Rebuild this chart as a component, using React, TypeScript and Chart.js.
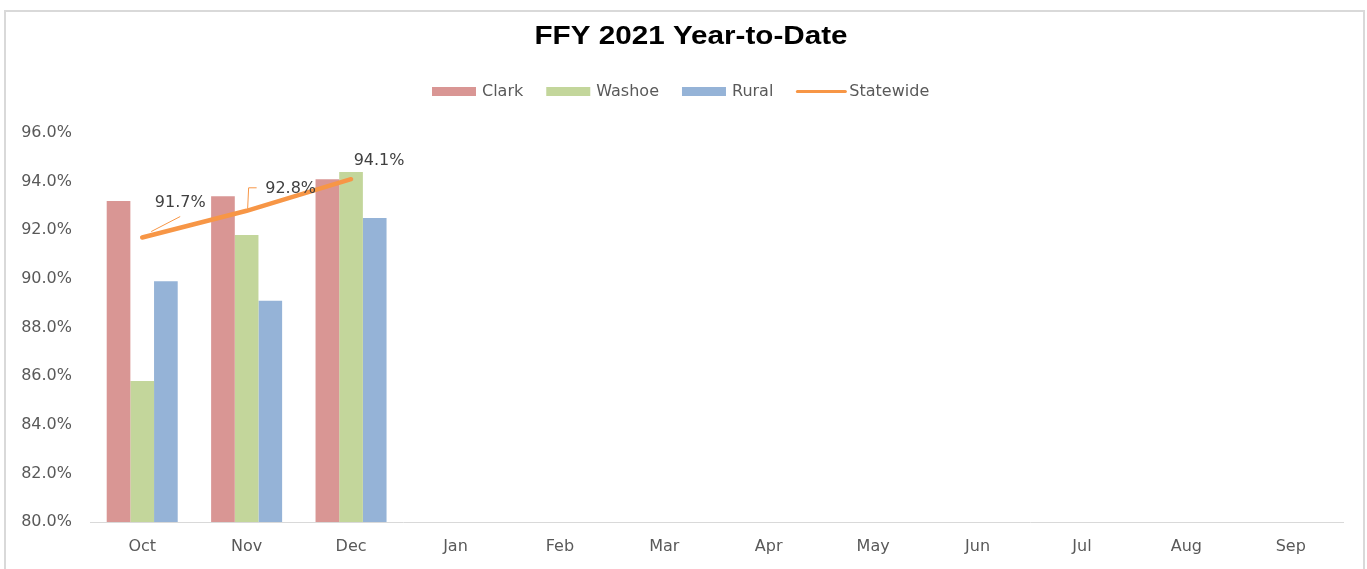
import React, { useEffect, useRef } from "react";
import { Chart, registerables } from "chart.js";

Chart.register(...registerables);

const months = ["Oct", "Nov", "Dec", "Jan", "Feb", "Mar", "Apr", "May", "Jun", "Jul", "Aug", "Sep"];
const clark = [93.2, 93.4, 94.1, null, null, null, null, null, null, null, null, null];
const washoe = [85.8, 91.8, 94.4, null, null, null, null, null, null, null, null, null];
const rural = [89.9, 89.1, 92.5, null, null, null, null, null, null, null, null, null];
const statewide = [91.7, 92.8, 94.1, null, null, null, null, null, null, null, null, null];
const yTicks = [80, 82, 84, 86, 88, 90, 92, 94, 96];

const COLORS = { clark: "#d99694", washoe: "#c3d69b", rural: "#95b3d7", statewide: "#f79646" };
const FONT = "'DejaVu Sans', 'Open Sans', sans-serif";

const titleLegendPlugin = {
  id: "titleLegend",
  afterDraw(chart: any) {
    const ctx = chart.ctx;
    ctx.save();
    // title, horizontally stretched like the reference
    ctx.font = `bold 25px 'Liberation Sans', Arial, sans-serif`;
    const title = "FFY 2021 Year-to-Date";
    const tw = ctx.measureText(title).width;
    const sx = 313 / tw;
    ctx.save();
    ctx.translate(691, 37);
    ctx.scale(sx, 1);
    ctx.fillStyle = "#000";
    ctx.textAlign = "center";
    ctx.textBaseline = "middle";
    ctx.fillText(title, 0, 0);
    ctx.restore();

    const items = chart.data.datasets.map((d: any) => ({
      label: d.label,
      color: d.borderColor || d.backgroundColor,
      isLine: d.type === "line",
    }));
    ctx.font = `16px ${FONT}`;
    ctx.textAlign = "left";
    ctx.textBaseline = "middle";
    let x = 432;
    const y = 91.5;
    items.forEach((it: any) => {
      const boxW = it.isLine ? 50 : 44;
      const gap = it.isLine ? 3 : 6;
      if (it.isLine) {
        ctx.strokeStyle = it.color;
        ctx.lineWidth = 3;
        ctx.lineCap = "round";
        ctx.beginPath();
        ctx.moveTo(x + 1, y);
        ctx.lineTo(x + boxW - 1, y);
        ctx.stroke();
      } else {
        ctx.fillStyle = it.color;
        ctx.fillRect(x, y - 4.5, boxW, 9);
      }
      ctx.fillStyle = "#595959";
      ctx.fillText(it.label, x + boxW + gap, y);
      x += boxW + gap + ctx.measureText(it.label).width + (it.isLine ? 0 : 23);
    });
    ctx.restore();
  },
};

const dataLabelPlugin = {
  id: "lineLabels",
  afterDatasetsDraw(chart: any) {
    const ctx = chart.ctx;
    const idx = chart.data.datasets.findIndex((d: any) => d.type === "line");
    const meta = chart.getDatasetMeta(idx);
    const offsets = [
      { dx: 38, dy: -35, leader: [[9, -6], [38, -21]] },
      { dx: 44, dy: -22, leader: [[1, -2], [2, -23], [10, -23]] },
      { dx: 28, dy: -18, leader: null },
    ];
    ctx.save();
    ctx.font = `16px ${FONT}`;
    ctx.textAlign = "center";
    ctx.textBaseline = "middle";
    meta.data.forEach((pt: any, i: number) => {
      const v = statewide[i];
      if (v == null || !offsets[i]) return;
      const o = offsets[i];
      if (o.leader) {
        ctx.strokeStyle = COLORS.statewide;
        ctx.lineWidth = 1;
        ctx.beginPath();
        o.leader.forEach((p: number[], j: number) => {
          const px = pt.x + p[0], py = pt.y + p[1];
          if (j === 0) ctx.moveTo(px, py); else ctx.lineTo(px, py);
        });
        ctx.stroke();
      }
      ctx.fillStyle = "#404040";
      ctx.fillText(v.toFixed(1) + "%", pt.x + o.dx, pt.y + o.dy);
    });
    ctx.restore();
  },
};

export default function App() {
  const ref = useRef<HTMLCanvasElement>(null);
  useEffect(() => {
    if (!ref.current) return;
    const barCommon = { type: "bar" as const, categoryPercentage: 0.68, barPercentage: 1, order: 1, borderWidth: 0 };
    const chart = new Chart(ref.current, {
      type: "bar",
      data: {
        labels: months,
        datasets: [
          { ...barCommon, label: "Clark", data: clark, backgroundColor: COLORS.clark },
          { ...barCommon, label: "Washoe", data: washoe, backgroundColor: COLORS.washoe },
          { ...barCommon, label: "Rural", data: rural, backgroundColor: COLORS.rural },
          {
            type: "line",
            label: "Statewide",
            data: statewide,
            borderColor: COLORS.statewide,
            backgroundColor: COLORS.statewide,
            borderWidth: 4.5,
            pointRadius: 0,
            tension: 0,
            order: 0,
            borderCapStyle: "round",
          } as any,
        ],
      },
      options: {
        responsive: false,
        animation: false,
        devicePixelRatio: 1,
        layout: { padding: { top: 133, right: 24, left: 0, bottom: 0 } },
        plugins: { legend: { display: false }, title: { display: false }, tooltip: { enabled: false } },
        scales: {
          x: {
            grid: { display: false, drawTicks: false },
            border: { display: true, color: "#d9d9d9", width: 1 },
            ticks: { color: "#595959", font: { family: FONT, size: 16 }, padding: 15, maxRotation: 0 },
            afterFit: (s: any) => { s.height = 47; },
          },
          y: {
            min: 80,
            max: 96,
            afterBuildTicks: (s: any) => { s.ticks = yTicks.map((v) => ({ value: v })); },
            grid: { display: false, drawTicks: false },
            border: { display: false },
            ticks: {
              color: "#595959",
              font: { family: FONT, size: 16 },
              padding: 18,
              labelOffset: 0,
              callback: (v: any) => Number(v).toFixed(1) + "%",
            },
            afterFit: (s: any) => { s.width = 90; },
          },
        },
      },
      plugins: [titleLegendPlugin, dataLabelPlugin],
    });
    return () => chart.destroy();
  }, []);

  return (
    <div style={{ position: "fixed", left: 0, top: 0, width: 1367, height: 569, background: "#fff", overflow: "hidden" }}>
      <div style={{ position: "absolute", left: 4, top: 10, width: 1361, height: 620, border: "2px solid #d9d9d9", boxSizing: "border-box" }} />
      <canvas ref={ref} width={1367} height={569} style={{ position: "absolute", left: 0, top: 0, width: 1367, height: 569 }} />
    </div>
  );
}
